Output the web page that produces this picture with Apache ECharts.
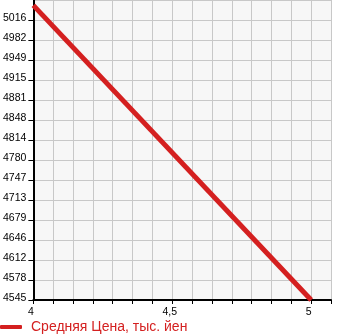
<!DOCTYPE html>
<html>
<head>
<meta charset="utf-8">
<script src="https://cdn.jsdelivr.net/npm/echarts@6/dist/echarts.min.js"></script>
<style>html,body{margin:0;padding:0;background:#fff;}#c{width:345px;height:335px;}</style>
</head>
<body>
<div id="c"></div>
<script>
var seriesName = 'Средняя Цена, тыс. йен';
var xValues = [4, 5];
var yValues = [5041, 4545];
var xTickLabels = {'4': '4', '4.5': '4,5', '5': '5'};
var yMin = 4545, yMax = 5050, ySteps = 15;
var xMin = 4, xSteps = 14;

var data = xValues.map(function (x, i) { return [x, yValues[i]]; });
var chart = echarts.init(document.getElementById('c'));
var font = 'Liberation Sans';
chart.setOption({
  animation: false,
  grid: { left: 31, right: 14, top: 0, bottom: 35, show: true, backgroundColor: '#f7f7f7', borderWidth: 0 },
  xAxis: {
    type: 'value', min: xMin, max: xMin + 15 / xSteps, interval: 1 / xSteps,
    axisLine: { show: true, lineStyle: { color: '#000', width: 2 } },
    axisTick: { show: true, length: 4, lineStyle: { color: '#000', width: 1 } },
    splitLine: { show: true, lineStyle: { color: '#c8c8c8', width: 1 } },
    axisLabel: {
      color: '#000', fontFamily: font, fontSize: 10.5, margin: 7, padding: [0, 5, 0, 0],
      showMaxLabel: false,
      formatter: function (v) {
        for (var key in xTickLabels) { if (Math.abs(parseFloat(key) - v) < 1e-6) return xTickLabels[key]; }
        return '';
      }
    }
  },
  yAxis: {
    type: 'value', min: yMin, max: yMax, interval: (yMax - yMin) / ySteps,
    axisLine: { show: true, lineStyle: { color: '#000', width: 2 } },
    axisTick: { show: true, length: 5, lineStyle: { color: '#000', width: 1 } },
    splitLine: { show: true, lineStyle: { color: '#c8c8c8', width: 1 } },
    axisLabel: {
      color: '#000', fontFamily: font, fontSize: 10.5, margin: 7, verticalAlign: 'bottom', padding: [0, 0, -4, 0],
      showMaxLabel: false,
      formatter: function (v) { return String(Math.floor(v + 1e-6)); }
    }
  },
  legend: {
    show: true, left: 0, top: 320, padding: 0,
    icon: 'roundRect', itemWidth: 22, itemHeight: 4,
    textStyle: { color: '#d42020', fontFamily: font, fontSize: 14, padding: [0, 0, 0, 4] },
    data: [seriesName]
  },
  series: [{
    name: seriesName, type: 'line', data: data, showSymbol: false, symbol: 'none',
    lineStyle: { color: '#d42020', width: 5 },
    itemStyle: { color: '#d42020' }
  }]
});
</script>
</body>
</html>
